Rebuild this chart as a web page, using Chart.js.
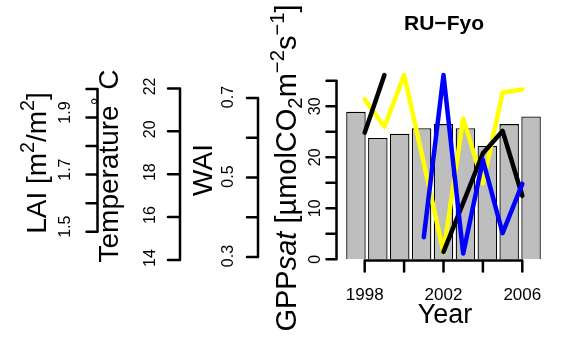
<!DOCTYPE html>
<html lang="en">
<head>
<meta charset="UTF-8">
<title>RU-Fyo</title>
<script src="https://cdn.jsdelivr.net/npm/chart.js"></script>
<style>
  body { margin: 0; background: #fff; }
  #chart-container { width: 565px; height: 337px; }
</style>
</head>
<body>
<div id="chart-container"><canvas id="siteChart"></canvas></div>
<script>
// data
const years = [1998, 1999, 2000, 2001, 2002, 2003, 2004, 2005, 2006];
const gppSat = [28.9, 23.8, 24.6, 25.7, 26.5, 25.7, 22.2, 26.5, 28.0];
const lai = [1.847, 2.049, null, null, 1.429, 1.601, 1.775, 1.853, 1.626];
const temperature = [21.49, 20.21, 22.62, 18.52, 14.35, 20.60, 17.57, 21.81, 21.95];
const wai = [null, null, null, 0.350, 0.758, 0.309, 0.544, 0.360, 0.484];

const laiTicks = [1.5, 1.6, 1.7, 1.8, 1.9, 2.0];
const laiLabels = ['1.5', '', '1.7', '', '1.9', ''];
const tempTicks = [14, 16, 18, 20, 22];
const tempLabels = ['14', '16', '18', '20', '22'];
const waiTicks = [0.3, 0.4, 0.5, 0.6, 0.7];
const waiLabels = ['0.3', '', '0.5', '', '0.7'];
const gppTicks = [0, 5, 10, 15, 20, 25, 30, 35];
const gppLabels = ['0', '', '10', '', '20', '', '30', ''];
const yearTicks = [1998, 2000, 2002, 2004, 2006];
const yearLabels = ['1998', '', '2002', '', '2006'];

const FONT = '"Liberation Sans", Arial, Helvetica, sans-serif';

// R-style axes: line only between first and last tick, labels parallel to axis
const leftAxes = [
    { id: 'lai', ticks: laiTicks, labels: laiLabels, lineX: 97.5, tickLen: 11, labelX: 70, shift: -5,
      title: [{ t: 'LAI [m' }, { t: '2', s: 'sup' }, { t: '/m' }, { t: '2', s: 'sup' }, { t: ']' }], titleX: 46, titleY: 163 },
    { id: 'temp', ticks: tempTicks, labels: tempLabels, lineX: 180, tickLen: 12, labelX: 155, shift: -2,
      title: [{ t: 'Temperature' }, { t: '\u00B0', s: 'sup' }, { t: ' C' }], titleX: 118, titleY: 166 },
    { id: 'wai', ticks: waiTicks, labels: waiLabels, lineX: 258, tickLen: 11, labelX: 233, shift: -1,
      title: [{ t: 'WAI' }], titleX: 212, titleY: 170 },
    { id: 'gpp', ticks: gppTicks, labels: gppLabels, lineX: 336.5, tickLen: 10, labelX: 320, shift: 0,
      title: [{ t: 'GPP' }, { t: 'sat', i: true }, { t: ' [\u00B5molCO' }, { t: '2', s: 'sub' }, { t: 'm' },
              { t: '\u22122', s: 'sup' }, { t: 's' }, { t: '\u22121', s: 'sup' }, { t: ']' }], titleX: 296, titleY: 168, size: 29 }
];

function drawRich(ctx, segs, x, y, size, rotate) {
    ctx.save();
    ctx.translate(x, y);
    if (rotate) ctx.rotate(-Math.PI / 2);
    const parts = segs.map(s => {
        const fs = s.s ? size * 0.7 : size;
        const font = (s.i ? 'italic ' : '') + fs + 'px ' + FONT;
        ctx.font = font;
        let dy = 0;
        if (s.s === 'sup') dy = -size * 0.42;
        if (s.s === 'sub') dy = size * 0.22;
        return { t: s.t, font: font, w: ctx.measureText(s.t).width, dy: dy };
    });
    const total = parts.reduce((a, p) => a + p.w, 0);
    let pos = -total / 2;
    ctx.textAlign = 'left';
    ctx.textBaseline = 'alphabetic';
    ctx.fillStyle = '#000';
    parts.forEach(p => {
        ctx.font = p.font;
        ctx.fillText(p.t, pos, p.dy);
        pos += p.w;
    });
    ctx.restore();
}

const rAxes = {
    id: 'rAxes',
    afterDraw(chart) {
        const ctx = chart.ctx;
        const area = chart.chartArea;
        ctx.save();
        ctx.strokeStyle = '#000';
        ctx.lineWidth = 2.5;
        ctx.lineCap = 'round';
        ctx.fillStyle = '#000';

        leftAxes.forEach(ax => {
            const sc = chart.scales[ax.id];
            const top = sc.getPixelForValue(ax.ticks[ax.ticks.length - 1]);
            const bot = sc.getPixelForValue(ax.ticks[0]);
            ctx.beginPath();
            ctx.moveTo(ax.lineX, top);
            ctx.lineTo(ax.lineX, bot);
            ax.ticks.forEach(v => {
                const py = sc.getPixelForValue(v);
                ctx.moveTo(ax.lineX, py);
                ctx.lineTo(ax.lineX - ax.tickLen, py);
            });
            ctx.stroke();
            ctx.font = '16px ' + FONT;
            ctx.textAlign = 'center';
            ctx.textBaseline = 'alphabetic';
            ax.ticks.forEach((v, i) => {
                if (!ax.labels[i]) return;
                ctx.save();
                ctx.translate(ax.labelX, sc.getPixelForValue(v) + ax.shift);
                ctx.rotate(-Math.PI / 2);
                ctx.fillText(ax.labels[i], 0, 0);
                ctx.restore();
            });
            drawRich(ctx, ax.title, ax.titleX, ax.titleY, ax.size || 28, true);
        });

        // year axis
        const xs = chart.scales.x;
        const yLine = area.bottom + 0.5;
        ctx.beginPath();
        ctx.moveTo(xs.getPixelForValue(yearTicks[0]), yLine);
        ctx.lineTo(xs.getPixelForValue(yearTicks[yearTicks.length - 1]), yLine);
        yearTicks.forEach(v => {
            const px = xs.getPixelForValue(v);
            ctx.moveTo(px, yLine);
            ctx.lineTo(px, yLine + 11);
        });
        ctx.stroke();
        ctx.font = '17px ' + FONT;
        ctx.textAlign = 'center';
        yearTicks.forEach((v, i) => {
            if (yearLabels[i]) ctx.fillText(yearLabels[i], xs.getPixelForValue(v), 300);
        });
        drawRich(ctx, [{ t: 'Year' }], 445, 323, 27, false);

        ctx.font = 'bold 21px ' + FONT;
        ctx.textAlign = 'center';
        ctx.fillText('RU\u2212Fyo', 444, 30);
        ctx.restore();
    }
};

function lineData(vals) {
    return years.map((x, i) => ({ x: x, y: vals[i] }));
}

const lineStyle = {
    type: 'line',
    xAxisID: 'x',
    borderWidth: 4.5,
    pointRadius: 0,
    borderCapStyle: 'round',
    borderJoinStyle: 'round',
    tension: 0,
    spanGaps: false,
    clip: false
};

new Chart(document.getElementById('siteChart').getContext('2d'), {
    type: 'bar',
    data: {
        labels: years,
        datasets: [
            { type: 'bar', data: gppSat, xAxisID: 'xb', yAxisID: 'gpp', backgroundColor: '#BEBEBE',
              borderColor: '#000', borderWidth: 1.3, grouped: false,
              barPercentage: 0.89, categoryPercentage: 1, order: 4 },
            Object.assign({}, lineStyle, { data: lineData(temperature), yAxisID: 'temp', borderColor: '#FFFF00', order: 3 }),
            Object.assign({}, lineStyle, { data: lineData(lai), yAxisID: 'lai', borderColor: '#000000', order: 2 }),
            Object.assign({}, lineStyle, { data: lineData(wai), yAxisID: 'wai', borderColor: '#0000FF', order: 1 })
        ]
    },
    options: {
        responsive: true,
        maintainAspectRatio: false,
        animation: false,
        layout: { padding: { left: 345, right: 23, top: 68, bottom: 77 } },
        plugins: { legend: { display: false }, tooltip: { enabled: false } },
        scales: {
            xb: { type: 'category', display: false, offset: true },
            x: { type: 'linear', display: false, min: 1998, max: 2006 },
            gpp: { type: 'linear', display: false, min: -0.14, max: 37.5 },
            temp: { type: 'linear', display: false, min: 14, max: 22.95 },
            lai: { type: 'linear', display: false, min: 1.4008, max: 2.0736 },
            wai: { type: 'linear', display: false, min: 0.2925, max: 0.7755 }
        }
    },
    plugins: [rAxes]
});
</script>
</body>
</html>
